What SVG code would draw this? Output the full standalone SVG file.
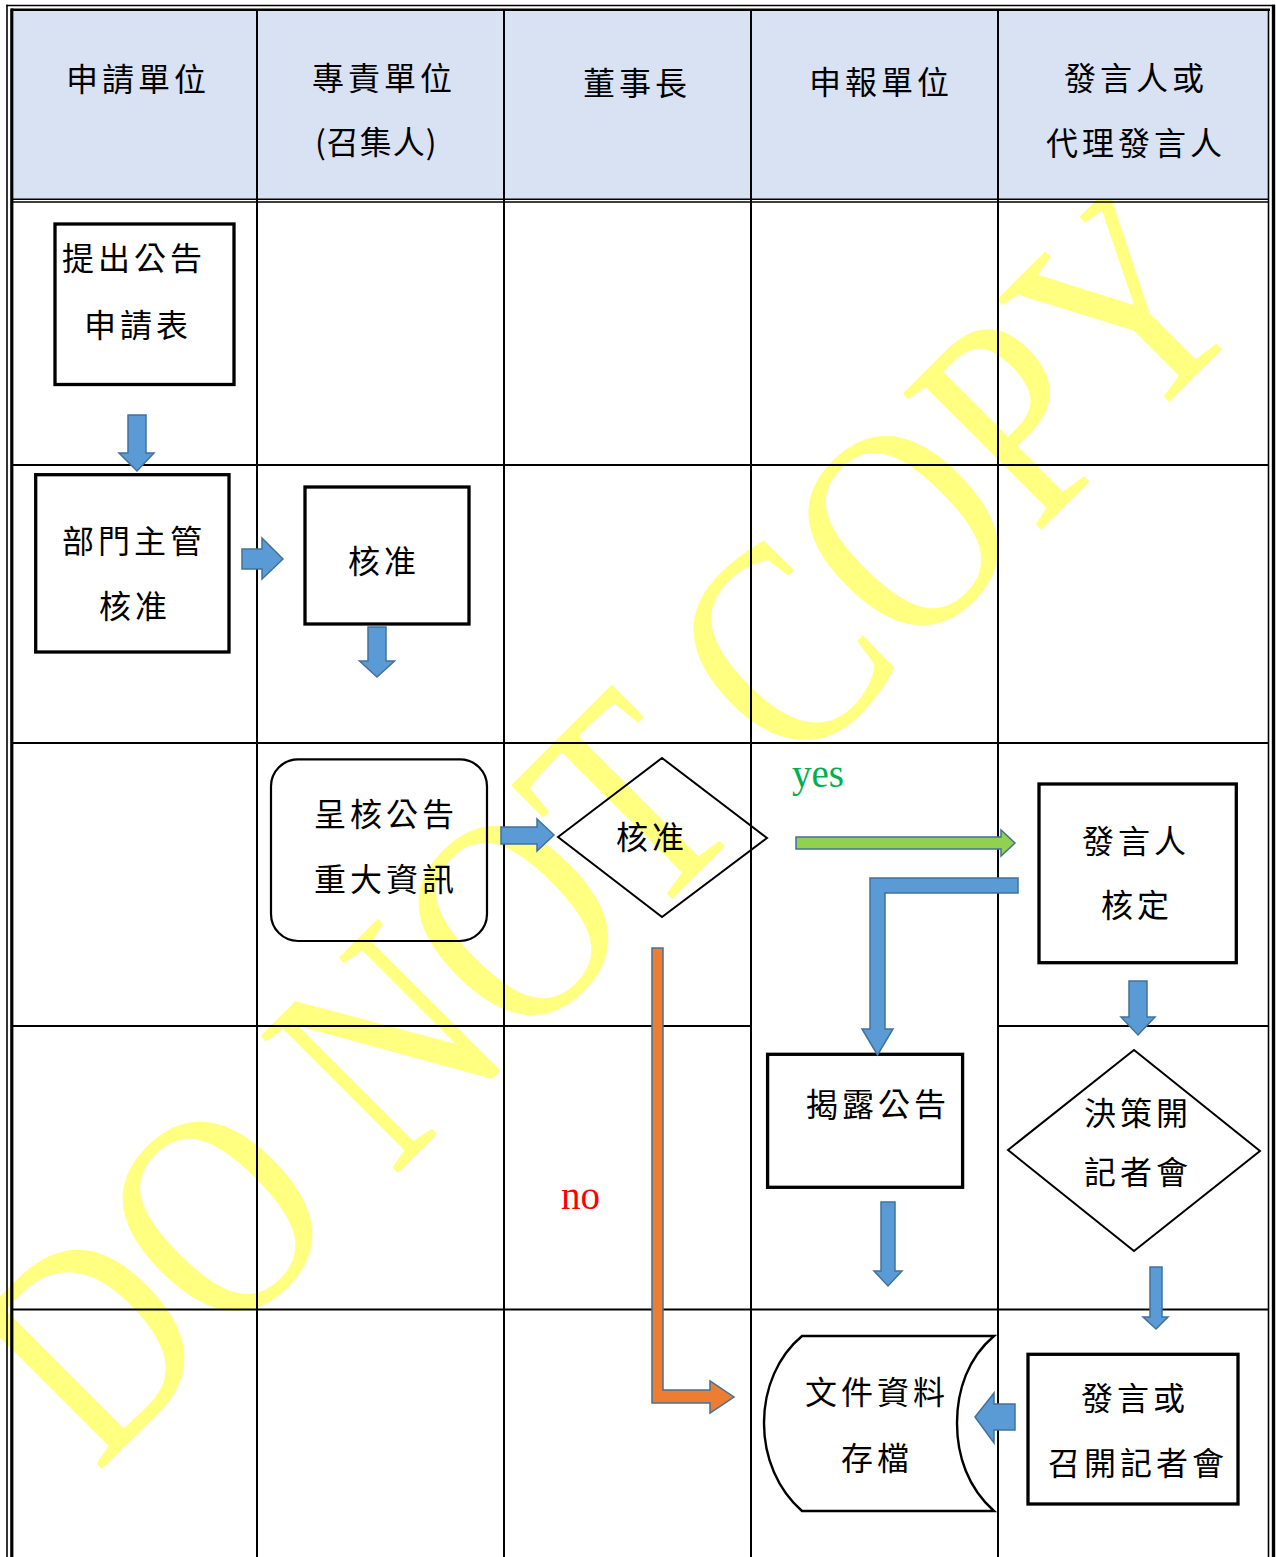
<svg xmlns="http://www.w3.org/2000/svg" width="1276" height="1557" viewBox="0 0 1276 1557">
<style>
.cjk{font-family:"Noto Sans CJK TC","Noto Sans CJK SC",sans-serif;font-size:32px;letter-spacing:4px;fill:#000}
.box{fill:none;stroke:#000;stroke-width:3.3}
.thin{fill:none;stroke:#000;stroke-width:2}
.grid{stroke:#000;stroke-width:2;fill:none}
.blue{fill:#5B9BD5;stroke:#41719C;stroke-width:1.5}
.green{fill:#92D050;stroke:#41719C;stroke-width:1.5}
.orange{fill:#ED7D31;stroke:#41719C;stroke-width:1.5}
.lbl{font-family:"Liberation Serif","Times New Roman",serif;font-size:39px}
</style>
<rect width="1276" height="1557" fill="#fff"/>
<g id="watermark">
<text x="0" y="0" font-family="Liberation Serif, Times New Roman, serif" font-size="247" fill="#FFFF80" transform="translate(97,1474) rotate(-45) scale(1,1.2)">DO NOT COPY</text>
</g>
<g id="table">
<rect x="13.5" y="11" width="1254.5" height="188" fill="#D9E2F3"/>
<line x1="7" y1="4.8" x2="7" y2="1557" stroke="#000" stroke-width="1.6"/>
<line x1="11.8" y1="8.5" x2="11.8" y2="1557" stroke="#000" stroke-width="3.2"/>
<line x1="6.2" y1="5.5" x2="1275" y2="5.5" stroke="#000" stroke-width="1.6"/>
<line x1="11" y1="9.7" x2="1270" y2="9.7" stroke="#000" stroke-width="2.6"/>
<line x1="1268.5" y1="9" x2="1268.5" y2="1557" stroke="#000" stroke-width="1.6"/>
<line x1="1273.5" y1="4.7" x2="1273.5" y2="1557" stroke="#000" stroke-width="3.4"/>
<line x1="13" y1="199.3" x2="1268" y2="199.3" stroke="#000" stroke-width="1.4"/>
<line x1="13" y1="202" x2="1268" y2="202" stroke="#000" stroke-width="1.4"/>
<line class="grid" x1="257" y1="11" x2="257" y2="1557"/>
<line class="grid" x1="504" y1="11" x2="504" y2="1557"/>
<line class="grid" x1="751" y1="11" x2="751" y2="1557"/>
<line class="grid" x1="998" y1="11" x2="998" y2="1557"/>
<line class="grid" x1="13" y1="465" x2="1268" y2="465"/>
<line class="grid" x1="13" y1="743" x2="1268" y2="743"/>
<line class="grid" x1="13" y1="1026" x2="751" y2="1026"/>
<line class="grid" x1="998" y1="1026" x2="1268" y2="1026"/>
<line class="grid" x1="13" y1="1309.5" x2="1268" y2="1309.5"/>
</g>
<g id="headers">
<text class="cjk" x="66" y="91">申請單位</text>
<text class="cjk" x="312" y="90">專責單位</text>
<text class="cjk" x="315" y="154" style="letter-spacing:1px">(召集人)</text>
<text class="cjk" x="583" y="95">董事長</text>
<text class="cjk" x="809" y="94">申報單位</text>
<text class="cjk" x="1064" y="90">發言人或</text>
<text class="cjk" x="1046" y="154.5">代理發言人</text>
</g>
<g id="n1">
<rect class="box" x="55" y="224" width="179" height="160.5"/>
<text class="cjk" x="62" y="270">提出公告</text>
<text class="cjk" x="84" y="336.5">申請表</text>
</g>
<g id="n2">
<rect class="box" x="35.7" y="474.7" width="193.3" height="177.3"/>
<text class="cjk" x="62" y="552.5">部門主管</text>
<text class="cjk" x="99" y="617.5">核准</text>
</g>
<g id="n3">
<rect class="box" x="305" y="487" width="164" height="137"/>
<text class="cjk" x="348" y="572.5">核准</text>
</g>
<g id="n4">
<rect x="271" y="759.3" width="216" height="181.7" rx="27" ry="27" fill="none" stroke="#000" stroke-width="2.2"/>
<text class="cjk" x="314" y="826">呈核公告</text>
<text class="cjk" x="314" y="891">重大資訊</text>
</g>
<g id="n5">
<polygon class="thin" points="558,837 662,758 767,838 662,917"/>
<text class="cjk" x="616" y="848.5">核准</text>
</g>
<g id="n6">
<rect class="box" x="1039" y="784" width="197.3" height="178.7"/>
<text class="cjk" x="1082" y="852.5">發言人</text>
<text class="cjk" x="1101" y="916.5">核定</text>
</g>
<g id="n7">
<rect class="box" x="767.6" y="1054.3" width="195" height="133"/>
<text class="cjk" x="806" y="1116">揭露公告</text>
</g>
<g id="n8">
<polygon class="thin" points="1008,1150 1134,1050 1260,1151 1134,1251"/>
<text class="cjk" x="1084" y="1125">決策開</text>
<text class="cjk" x="1084" y="1183.5">記者會</text>
</g>
<g id="n9">
<rect class="box" x="1028" y="1354.3" width="210" height="149.7"/>
<text class="cjk" x="1081" y="1410">發言或</text>
<text class="cjk" x="1048" y="1474.5">召開記者會</text>
</g>
<g id="n10">
<path d="M802,1336 H994 C968,1358 957,1390 957,1423 C957,1456 968,1488 994,1511 H802 C778,1490 764,1458 764,1423 C764,1388 778,1356 802,1336 Z" fill="none" stroke="#000" stroke-width="2.4"/>
<text class="cjk" x="805" y="1403.5">文件資料</text>
<text class="cjk" x="841" y="1470">存檔</text>
</g>
<g id="connectors">
<path class="blue" d="M128,415 H146 V453 H154 L137,471 L119,453 H128 Z"/>
<path class="blue" d="M242,549 H262 V538 L283,559 L262,579 V569 H242 Z"/>
<path class="blue" d="M368,627 H386 V661 H394.5 L377,677 L359.5,661 H368 Z"/>
<path class="blue" d="M501,827 H537 V819 L554,835 L537,851 V844 H501 Z"/>
<path class="green" d="M796,837 H1001 V830 L1015,843 L1001,856 V849 H796 Z"/>
<path class="blue" d="M1018,878 V893 H885 V1029 H893 L877.5,1055 L862,1029 H870 V878 Z"/>
<path class="blue" d="M1129,981 H1147 V1017 H1155 L1138,1035 L1121,1017 H1129 Z"/>
<path class="blue" d="M881,1202 H895 V1271 H902 L888,1286 L874,1271 H881 Z"/>
<path class="blue" d="M1150,1267 H1162 V1317 H1168 L1156,1329 L1143,1317 H1150 Z"/>
<path class="blue" d="M1015,1404 V1430 H994 V1443 L975,1417 L994,1393 V1404 Z"/>
<path class="orange" d="M652,948 H663 V1390 H710 V1381 L734,1397 L710,1413 V1403 H652 Z"/>
<text class="lbl" x="792" y="787" fill="#00B050">yes</text>
<text class="lbl" x="561" y="1209" font-size="40" fill="#FF0000">no</text>
</g>
</svg>
